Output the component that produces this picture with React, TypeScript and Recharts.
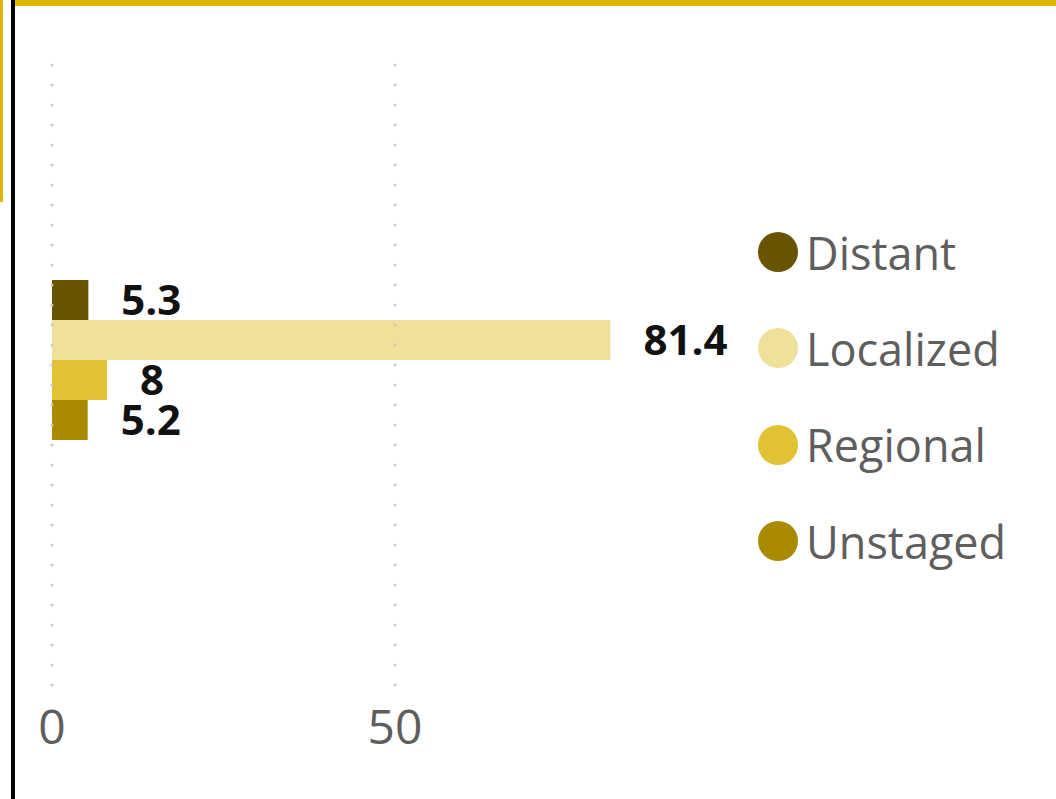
import React from "react"
import { BarChart, Bar, XAxis, YAxis, ReferenceLine, LabelList } from "recharts"

// Single category, one bar per stage
const categories = ["Stage"]
const stageNames = ["Distant", "Localized", "Regional", "Unstaged"]
const stageValues = [5.3, 81.4, 8, 5.2]
const stageColors = ["#695400", "#F0E19A", "#E1C233", "#A98A00"]
const xTicks = [0, 50]

const data = categories.map((name) => {
	const row: Record<string, string | number> = { name }
	stageNames.forEach((s, i) => {
		row[s] = stageValues[i]
	})
	return row
})

const FONT = '"Segoe UI", "Open Sans", sans-serif'

// Legend with big dots, stacked on the right
const StageLegend = () => (
	<div style={{ position: "absolute", left: 758, top: 204, display: "flex", flexDirection: "column", fontFamily: FONT }}>
		{stageNames.map((s, i) => (
			<div key={s} style={{ display: "flex", alignItems: "center", height: 96.3 }}>
				<span
					style={{
						width: 40,
						height: 40,
						borderRadius: "50%",
						background: stageColors[i],
						display: "inline-block",
						marginRight: 8,
					}}
				/>
				<span style={{ fontSize: 45, color: "#605E5C", lineHeight: 1 }}>{s}</span>
			</div>
		))}
	</div>
)

const App = () => {
	return (
		<div style={{ position: "absolute", left: 0, top: 0, width: 1056, height: 799, background: "#fff", overflow: "hidden" }}>
			{/* frame decorations */}
			<div style={{ position: "absolute", left: 0, top: 0, width: 3, height: 202, background: "#DFB700" }} />
			<div style={{ position: "absolute", left: 11, top: 0, width: 4, height: 799, background: "#000" }} />
			<div style={{ position: "absolute", left: 15, top: 0, width: 1041, height: 6, background: "#DFB700" }} />

			<BarChart
				width={1056}
				height={799}
				data={data}
				layout="vertical"
				barGap={0}
				margin={{ top: 45, right: 318, left: 52, bottom: 0 }}
				style={{ position: "absolute", left: 0, top: 0 }}>
				{/* dotted vertical gridlines at the tick values */}
				{xTicks.map((t) => (
					<ReferenceLine
						key={t}
						x={t}
						stroke="#C8C8C8"
						strokeWidth={3}
						strokeDasharray="0 20"
						strokeLinecap="round"
					/>
				))}
				<XAxis
					type="number"
					domain={[0, 100]}
					ticks={xTicks}
					axisLine={false}
					tickLine={false}
					tickSize={0}
					tickMargin={25}
					height={114}
					tick={{ fontSize: 48, fill: "#605E5C", fontFamily: FONT }}
				/>
				<YAxis type="category" dataKey="name" hide padding={{ top: 0, bottom: 10 }} />
				{stageNames.map((s, i) => (
					<Bar key={s} dataKey={s} fill={stageColors[i]} barSize={40} isAnimationActive={false}>
						<LabelList
							dataKey={s}
							position="right"
							offset={33}
							fill="#111"
							style={{ fontSize: 42, fontWeight: 700, fontFamily: FONT }}
						/>
					</Bar>
				))}
			</BarChart>
			<StageLegend />
		</div>
	)
}

export default App
